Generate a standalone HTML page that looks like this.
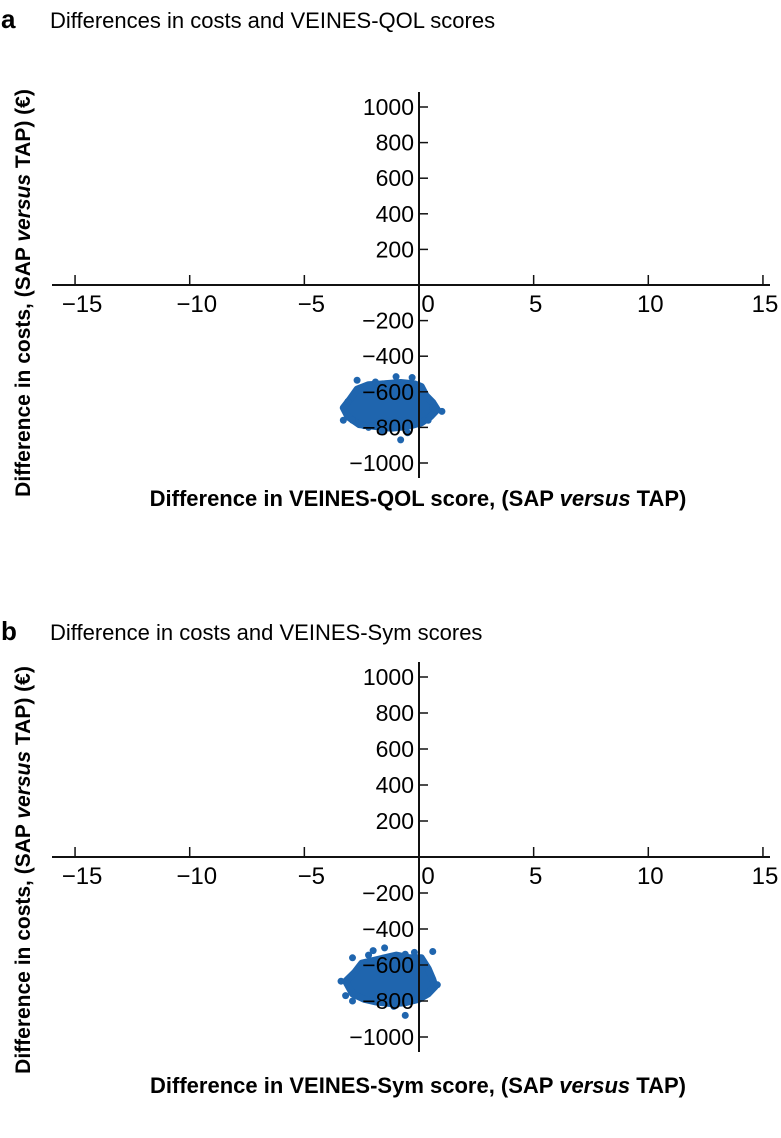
<!DOCTYPE html>
<html><head><meta charset="utf-8"><style>
html,body{margin:0;padding:0;background:#fff;}
svg{display:block;font-family:"Liberation Sans",Arial,sans-serif;}
</style></head><body>
<svg id="fig" width="781" height="1138" viewBox="0 0 781 1138"></svg>
<script>
// x-axis tick values and y-axis tick values (shared)
const xTicks = [-15, -10, -5, 0, 5, 10, 15];
const xTickLabels = ["\u221215", "\u221210", "\u22125", "0", "5", "10", "15"];
const yTicks = [1000, 800, 600, 400, 200, -200, -400, -600, -800, -1000];
const yTickLabels = ["1000", "800", "600", "400", "200", "\u2212200", "\u2212400", "\u2212600", "\u2212800", "\u22121000"];

// Panel a: dense core outline (QOL diff, cost diff) and scattered points
const coreAx = [-3.0, -2.7, -2.2, -1.5, -0.8, -0.2, 0.1, 0.3, 0.6, 0.8, 0.5, 0.1, -0.5, -1.2, -1.9, -2.6, -3.1, -3.3];
const coreAy = [-640, -585, -560, -555, -548, -555, -570, -620, -660, -700, -740, -775, -795, -805, -795, -785, -740, -690];
const ptsAx = [-2.7, -1.0, -0.3, 1.0, -3.3, -0.8, -2.2, 0.6, -1.6, -2.9, 0.7, -0.5, -1.9, -3.1, -2.4, 0.4];
const ptsAy = [-535, -515, -520, -710, -760, -870, -800, -690, -820, -760, -700, -830, -545, -655, -790, -760];

// Panel b: dense core outline (Sym diff, cost diff) and scattered points
const coreBx = [-2.8, -2.5, -2.0, -1.5, -1.0, -0.4, 0.1, 0.4, 0.6, 0.7, 0.4, 0.0, -0.6, -1.2, -1.9, -2.4, -2.9, -3.2];
const coreBy = [-640, -590, -575, -560, -545, -560, -560, -620, -680, -720, -760, -790, -810, -815, -805, -790, -760, -690];
const ptsBx = [-2.9, -1.5, -0.6, 0.6, -3.4, -0.6, -3.2, -2.9, 0.8, -1.1, -2.0, 0.5, -2.2, -0.2];
const ptsBy = [-560, -505, -540, -525, -690, -880, -770, -800, -710, -830, -520, -740, -545, -530];

const NS = "http://www.w3.org/2000/svg";
const svg = document.getElementById('fig');
function mk(tag, attrs, parent, text) {
  const e = document.createElementNS(NS, tag);
  for (const k in attrs) e.setAttribute(k, attrs[k]);
  if (text !== undefined) e.textContent = text;
  (parent || svg).appendChild(e);
  return e;
}

function panel(cfg) {
  const g = mk('g', {});
  
  
  const x0 = 419, xs = 22.93;
  const X = v => x0 + v * xs;
  const Y = v => cfg.axisY - v * cfg.ys;

  const letter = mk('text', {x: 1, y: cfg.titleY + 8, 'font-size': 26, 'font-weight': 'bold'}, g, cfg.letter);
  
  
  const title = mk('text', {x: 50, y: cfg.titleY + 8, 'font-size': 22}, g, cfg.title);
  
  

  let d = '';
  for (let i = 0; i < cfg.cx.length; i++) d += (i ? 'L' : 'M') + X(cfg.cx[i]).toFixed(1) + ',' + Y(cfg.cy[i]).toFixed(1);
  const core = mk('path', {d: d + 'Z', fill: '#1f65ae', stroke: '#1f65ae', 'stroke-width': 7, 'stroke-linejoin': 'round'}, g);
  
  
  for (let i = 0; i < cfg.px.length; i++) {
    const c = mk('circle', {cx: X(cfg.px[i]), cy: Y(cfg.py[i]), r: 3.5, fill: '#1f65ae'}, g);
    
    
  }

  const xa = mk('line', {x1: 52, x2: 770, y1: cfg.axisY, y2: cfg.axisY, stroke: '#111', 'stroke-width': 2}, g);
  
  
  xTicks.forEach((t, i) => {
    if (t !== 0) {
      const tk = mk('line', {x1: X(t), x2: X(t), y1: cfg.axisY, y2: cfg.axisY - 10, stroke: '#111', 'stroke-width': 1.5}, g);
      
      
    }
    const lx = t === 0 ? X(t) + 9 : (t < 0 ? X(t) + 7 : X(t) + 2);
    const lb = mk('text', {x: lx, y: cfg.axisY + 27, 'font-size': 24, 'text-anchor': 'middle'}, g, xTickLabels[i]);
    
    
  });

  const ya = mk('line', {x1: x0, x2: x0, y1: Y(1000) - 15, y2: Y(-1000) + 15, stroke: '#111', 'stroke-width': 2}, g);
  
  
  yTicks.forEach((t, i) => {
    const tk = mk('line', {x1: x0, x2: x0 + 9, y1: Y(t), y2: Y(t), stroke: '#111', 'stroke-width': 1.5}, g);
    
    
    const lb = mk('text', {x: x0 - 5, y: Y(t) + 8, 'font-size': 23, 'text-anchor': 'end'}, g, yTickLabels[i]);
    
    
  });

  const xt = mk('text', {x: 418, y: cfg.xTitleY, 'font-size': 22, 'font-weight': 'bold', 'text-anchor': 'middle'}, g);
  
  
  mk('tspan', {}, xt, cfg.xTitle + ', (SAP ');
  mk('tspan', {'font-style': 'italic'}, xt, 'versus');
  mk('tspan', {}, xt, ' TAP)');

  const yt = mk('text', {x: 0, y: 0, 'font-size': 21, 'font-weight': 'bold', 'text-anchor': 'middle',
    transform: 'translate(30,' + cfg.yTitleC + ') rotate(-90)'}, g);
  
  
  mk('tspan', {}, yt, 'Difference in costs, (SAP ');
  mk('tspan', {'font-style': 'italic'}, yt, 'versus');
  mk('tspan', {}, yt, ' TAP) (\u20ac)');
}

panel({name: 'panel-a', letter: 'a', title: 'Differences in costs and VEINES-QOL scores', titleY: 20,
  axisY: 285, ys: 0.178, xTitleY: 506, yTitleC: 293, xTitle: 'Difference in VEINES-QOL score',
  cx: coreAx, cy: coreAy, px: ptsAx, py: ptsAy});
panel({name: 'panel-b', letter: 'b', title: 'Difference in costs and VEINES-Sym scores', titleY: 632,
  axisY: 857, ys: 0.18, xTitleY: 1093, yTitleC: 870, xTitle: 'Difference in VEINES-Sym score',
  cx: coreBx, cy: coreBy, px: ptsBx, py: ptsBy});
</script>
</body></html>
